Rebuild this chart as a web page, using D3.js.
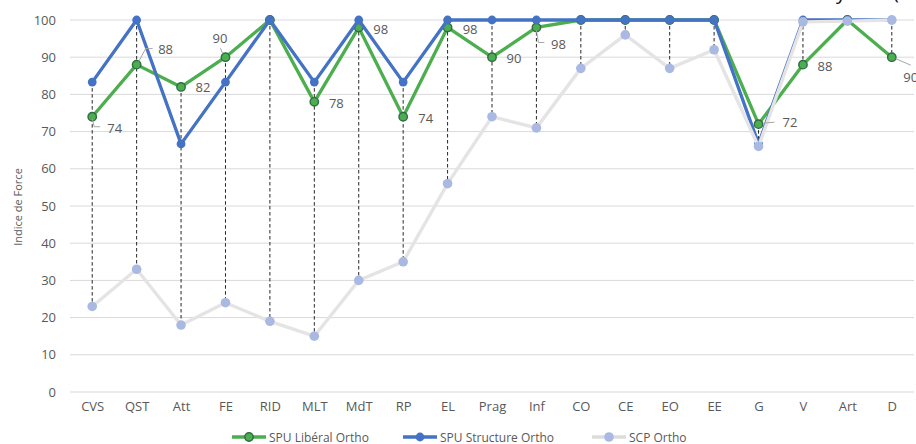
<!DOCTYPE html>
<html>
<head>
<meta charset="utf-8">
<script src="https://cdn.jsdelivr.net/npm/d3@7/dist/d3.min.js"></script>
<style>
  html, body { margin: 0; padding: 0; background: #fff; }
  svg { display: block; font-family: "Open Sans", "Noto Sans", sans-serif; }
</style>
</head>
<body>
<svg id="chart" width="916" height="444"></svg>
<script>
// Categories (x axis)
const categories = ["CVS","QST","Att","FE","RID","MLT","MdT","RP","EL","Prag","Inf","CO","CE","EO","EE","G","V","Art","D"];

// Series values
const spuLiberal   = [74, 88, 82, 90, 100, 78, 98, 74, 98, 90, 98, 100, 100, 100, 100, 72, 88, 100, 90];
const spuStructure = [83.3, 100, 66.7, 83.3, 100, 83.3, 100, 83.3, 100, 100, 100, 100, 100, 100, 100, 66.7, 100, 100, 100];
const scpOrtho     = [23, 33, 18, 24, 19, 15, 30, 35, 56, 74, 71, 87, 96, 87, 92, 66, 99.5, 99.7, 100];

// Series names
const seriesNames = ["SPU Libéral Ortho", "SPU Structure Ortho", "SCP Ortho"];

// Y tick values
const yTicks = [0, 10, 20, 30, 40, 50, 60, 70, 80, 90, 100];
const yTitle = "Indice de Force";

// ---- layout & styles ----
const svg = d3.select("#chart");
const x = d3.scalePoint().domain(categories).range([70, 914]).padding(0.5);
const y = d3.scaleLinear().domain([0, 100]).range([392, 20]);

const textColor = "#595959";
const series = [
  { name: seriesNames[0], values: spuLiberal,   line: "#4cae4f", width: 3.3, fill: "#4cae4f", stroke: "#2f6b45", r: 4.2, sw: 1.4 },
  { name: seriesNames[1], values: spuStructure, line: "#4472c4", width: 3.3, fill: "#4472c4", stroke: "#4472c4", r: 4.4, sw: 0 },
  { name: seriesNames[2], values: scpOrtho,     line: "#e4e4e4", width: 3.4, fill: "#a9b9e2", stroke: "#a9b9e2", r: 4.8, sw: 0 }
];

// Cropped heading remnants along the top edge
svg.append("text").attr("x", 836).attr("y", -1).attr("font-size", 20).attr("fill", "#111").text("y");
svg.append("text").attr("x", 893).attr("y", -1).attr("font-size", 20).attr("fill", "#111").text("(");

// Horizontal gridlines
svg.append("g")
  .selectAll("line")
  .data(yTicks)
  .join("line")
  .attr("x1", 70).attr("x2", 914)
  .attr("y1", d => y(d)).attr("y2", d => y(d))
  .attr("stroke", "#d9d9d9").attr("stroke-width", 1);

// Y axis labels
const yAxis = d3.axisLeft(y).tickValues(yTicks).tickSize(0).tickPadding(0);
svg.append("g")
  .attr("transform", "translate(56,0)")
  .call(yAxis)
  .call(g => g.select(".domain").remove())
  .call(g => g.selectAll("text")
    .attr("fill", textColor)
    .attr("font-size", 13)
    .attr("font-family", "Open Sans, sans-serif"));

// X axis labels
const xAxis = d3.axisBottom(x).tickSize(0).tickPadding(0);
svg.append("g")
  .attr("transform", "translate(0,402)")
  .call(xAxis)
  .call(g => g.select(".domain").remove())
  .call(g => g.selectAll("text")
    .attr("fill", textColor)
    .attr("font-size", 13)
    .attr("font-family", "Open Sans, sans-serif"));

// Y axis title
svg.append("text")
  .attr("transform", "translate(22,207) rotate(-90)")
  .attr("text-anchor", "middle")
  .attr("font-size", 11)
  .attr("fill", textColor)
  .text(yTitle);

// High-low drop lines between the highest and lowest series at each category
svg.append("g")
  .selectAll("line")
  .data(categories.map((c, i) => {
    const vals = series.map(s => s.values[i]);
    return { c, hi: d3.max(vals), lo: d3.min(vals) };
  }))
  .join("line")
  .attr("x1", d => x(d.c)).attr("x2", d => x(d.c))
  .attr("y1", d => y(d.hi)).attr("y2", d => y(d.lo))
  .attr("stroke", "#262626").attr("stroke-width", 1)
  .attr("stroke-dasharray", "3.5,2.5");

// Series lines and markers
const line = d3.line().x((d, i) => x(categories[i])).y(d => y(d));
series.forEach(s => {
  const g = svg.append("g");
  g.append("path")
    .attr("d", line(s.values))
    .attr("fill", "none")
    .attr("stroke", s.line)
    .attr("stroke-width", s.width)
    .attr("stroke-linejoin", "round");
  g.selectAll("circle")
    .data(s.values)
    .join("circle")
    .attr("cx", (d, i) => x(categories[i]))
    .attr("cy", d => y(d))
    .attr("r", s.r)
    .attr("fill", s.fill)
    .attr("stroke", s.stroke)
    .attr("stroke-width", s.sw);
});

// Data labels of the first series (offsets relative to each marker; optional leader lines)
const labelPlacement = {
  CVS:  { dx: 22.5, dy: 11,  leader: [[0, 2], [2, 10], [8, 10]] },
  QST:  { dx: 29,   dy: -16, leader: [[2, -3], [9, -16], [16, -16]] },
  Att:  { dx: 22,   dy: 0.5 },
  FE:   { dx: -5.5, dy: -19, leader: [[-3, -4], [-5, -9]] },
  MLT:  { dx: 22,   dy: 1 },
  MdT:  { dx: 22,   dy: 1.5 },
  RP:   { dx: 22.5, dy: 1.5 },
  EL:   { dx: 22.5, dy: 1.5 },
  Prag: { dx: 22,   dy: 1 },
  Inf:  { dx: 22,   dy: 16.5, leader: [[0, 3], [2, 15], [8, 15]] },
  G:    { dx: 31.5, dy: -2.5, leader: [[5, -1], [16, -2]] },
  V:    { dx: 22,   dy: 1 },
  D:    { dx: 19,   dy: 20, leader: [[4, 1.5], [19, 8]] }
};
const labelsG = svg.append("g");
categories.forEach((c, i) => {
  const p = labelPlacement[c];
  if (!p) return;
  const px = x(c), py = y(spuLiberal[i]);
  if (p.leader) {
    labelsG.append("path")
      .attr("d", d3.line()(p.leader.map(([a, b]) => [px + a, py + b])))
      .attr("fill", "none")
      .attr("stroke", "#a6a6a6")
      .attr("stroke-width", 1);
  }
  labelsG.append("text")
    .attr("x", px + p.dx)
    .attr("y", py + p.dy)
    .attr("text-anchor", "middle")
    .attr("dominant-baseline", "central")
    .attr("font-size", 13)
    .attr("fill", textColor)
    .text(spuLiberal[i]);
});

// Legend
const legendItems = [
  { s: series[0], x0: 232 },
  { s: series[1], x0: 403 },
  { s: series[2], x0: 592 }
];
const lg = svg.append("g");
legendItems.forEach(({ s, x0 }) => {
  lg.append("line")
    .attr("x1", x0).attr("x2", x0 + 34)
    .attr("y1", 437).attr("y2", 437)
    .attr("stroke", s === series[2] ? "#dcdcdc" : s.line)
    .attr("stroke-width", s.width);
  lg.append("circle")
    .attr("cx", x0 + 17).attr("cy", 437).attr("r", s.r)
    .attr("fill", s.fill).attr("stroke", s.stroke).attr("stroke-width", s.sw);
  lg.append("text")
    .attr("x", x0 + 37).attr("y", 437)
    .attr("dominant-baseline", "central")
    .attr("font-size", 12)
    .attr("fill", textColor)
    .text(s.name);
});
</script>
</body>
</html>
